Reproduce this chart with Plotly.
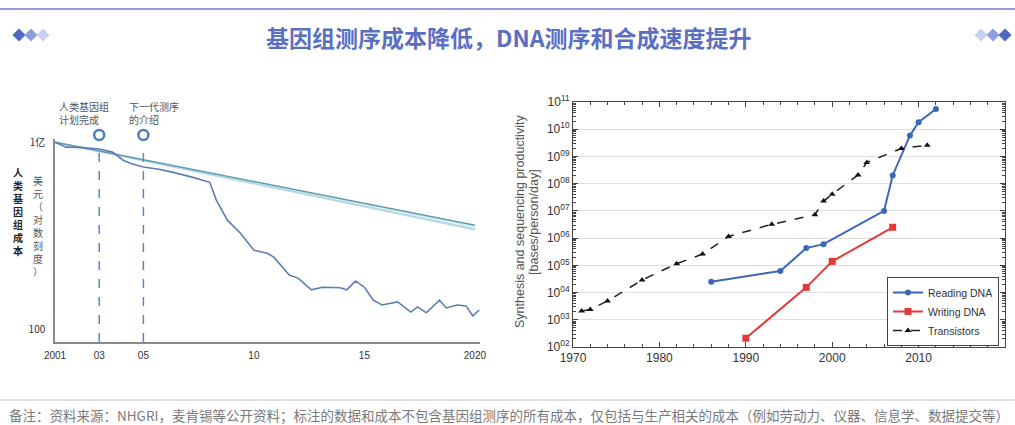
import plotly.graph_objects as go

# ---------------- data ----------------
# Left chart: human genome sequencing cost (USD, log scale)
cost_years = [2001.0, 2001.5, 2002.1, 2003.0, 2003.6, 2004.1, 2004.5, 2005.0, 2005.7, 2006.3,
              2007.2, 2008.0, 2008.3, 2008.8, 2009.4, 2010.0, 2010.6, 2010.9, 2011.6, 2012.0,
              2012.6, 2013.1, 2013.9, 2014.2, 2014.6, 2015.0, 2015.4, 2015.8, 2016.5, 2017.1,
              2017.4, 2017.8, 2018.4, 2018.7, 2019.2, 2019.6, 2019.9, 2020.2]
cost_values = [1.0e8, 6.9e7, 6.8e7, 6.0e7, 4.8e7, 2.6e7, 2.0e7, 1.6e7, 1.35e7, 1.1e7,
               7.6e6, 5.2e6, 1.4e6, 3.2e5, 1.2e5, 3.5e4, 2.8e4, 2.1e4, 5.6e3, 4.5e3,
               1.9e3, 2.3e3, 2.2e3, 1.9e3, 3.6e3, 2.3e3, 890, 620, 780, 370,
               540, 350, 890, 500, 620, 580, 280, 430]
moore_years = [2001, 2020]
moore_upper = [1.0e8, 2.2e5]
moore_lower = [1.0e8, 1.6e5]
milestone_years = [2003, 2005]
milestone_labels = ["人类基因组<br>计划完成", "下一代测序<br>的介绍"]
left_tick_years = [2001, 2003, 2005, 2010, 2015, 2020]
left_tick_text = ["2001", "03", "05", "10", "15", "2020"]
left_y_ticks = [1e8, 100]
left_y_text = ["1亿", "100"]

# Right chart: synthesis and sequencing productivity (bases/person/day)
reading_years = [1986, 1994, 1997, 1999, 2006, 2007, 2009, 2010, 2012]
reading_values = [2.5e4, 6.2e4, 4.3e5, 6.0e5, 1.0e7, 2.0e8, 5.9e9, 1.8e10, 5.5e10]
writing_years = [1990, 1997, 2000, 2007]
writing_values = [2.1e2, 1.55e4, 1.4e5, 2.5e6]
transistor_years = [1971, 1972, 1974, 1978, 1982, 1985, 1988, 1993, 1998, 1999, 2000, 2003, 2004, 2008, 2011]
transistor_values = [2.1e3, 2.4e3, 4.9e3, 2.9e4, 1.15e5, 2.6e5, 1.15e6, 3.2e6, 7.2e6, 2.3e7,
                     4.1e7, 2.1e8, 6.0e8, 1.95e9, 2.6e9]
right_x_ticks = [1970, 1980, 1990, 2000, 2010, 2020]
right_y_exponents = [2, 3, 4, 5, 6, 7, 8, 9, 10, 11]

title_text = "基因组测序成本降低，DNA测序和合成速度提升"
footnote_text = ("备注：资料来源：NHGRI，麦肯锡等公开资料；标注的数据和成本不包含基因组测序的所有成本，"
                 "仅包括与生产相关的成本（例如劳动力、仪器、信息学、数据提交等）")

# ---------------- figure ----------------
W, H = 1015, 425
CJK = "Noto Sans CJK SC"
LAT = "Liberation Sans, Arial, sans-serif"


def px(x):
    return x / W


def py(y):
    return (H - y) / H


fig = go.Figure()

# left chart traces
fig.add_trace(go.Scatter(x=moore_years, y=moore_lower, mode="lines",
                         line=dict(color="#b5d6e6", width=2), xaxis="x", yaxis="y",
                         showlegend=False, hoverinfo="skip"))
fig.add_trace(go.Scatter(x=moore_years, y=moore_upper, mode="lines",
                         line=dict(color="#5c9fa9", width=1.5), fill="tonexty",
                         fillcolor="rgba(181,214,230,0.45)", xaxis="x", yaxis="y",
                         showlegend=False, hoverinfo="skip"))
fig.add_trace(go.Scatter(x=cost_years, y=cost_values, mode="lines",
                         line=dict(color="#5f7db3", width=1.6), xaxis="x", yaxis="y",
                         showlegend=False))

# right chart traces
fig.add_trace(go.Scatter(x=reading_years, y=reading_values, mode="lines+markers", name="Reading DNA",
                         line=dict(color="#3b67b8", width=2),
                         marker=dict(symbol="circle", size=6, color="#3b67b8"),
                         xaxis="x2", yaxis="y2"))
fig.add_trace(go.Scatter(x=writing_years, y=writing_values, mode="lines+markers", name="Writing DNA",
                         line=dict(color="#e2393b", width=2),
                         marker=dict(symbol="square", size=7, color="#e2393b"),
                         xaxis="x2", yaxis="y2"))
fig.add_trace(go.Scatter(x=transistor_years, y=transistor_values, mode="lines+markers", name="Transistors",
                         line=dict(color="#222222", width=1.5, dash="dash"),
                         marker=dict(symbol="triangle-up", size=6, color="#111111"),
                         xaxis="x2", yaxis="y2"))

minor_vals = [m * 10 ** k for k in range(2, 11) for m in range(2, 10)]

fig.update_layout(
    width=W, height=H, autosize=False,
    margin=dict(l=0, r=0, t=0, b=0, pad=0, autoexpand=False),
    paper_bgcolor="white", plot_bgcolor="white",
    xaxis=dict(domain=[px(55), px(480)], range=[2001, 2020.23], anchor="y", automargin=False,
               tickvals=left_tick_years, ticktext=left_tick_text,
               showline=True, linecolor="#8a8a8a", linewidth=1.5, showgrid=False, zeroline=False,
               ticks="", ticklabelstandoff=3, tickfont=dict(family=LAT, size=10, color="#333")),
    yaxis=dict(domain=[py(342), py(139)], type="log", range=[1.61, 8.1], anchor="x", automargin=False,
               tickvals=left_y_ticks, ticktext=left_y_text,
               showline=True, linecolor="#8a8a8a", linewidth=1.5, showgrid=False, zeroline=False,
               ticks="", ticklabelstandoff=6, tickfont=dict(family=CJK, size=10, color="#333")),
    xaxis2=dict(domain=[px(573), px(1005)], range=[1970, 2020], anchor="y2", automargin=False,
                tick0=1970, dtick=10, ticks="inside", ticklen=5, tickcolor="#444",
                mirror="allticks", showline=True, linecolor="#444", linewidth=1,
                showgrid=False, zeroline=False,
                minor=dict(ticks="inside", ticklen=3, dtick=2, tick0=1970, tickcolor="#444", showgrid=False),
                tickfont=dict(family=LAT, size=12, color="#333")),
    yaxis2=dict(domain=[py(347), py(102)], type="log", range=[2, 11], anchor="x2", automargin=False,
                tickvals=[10 ** k for k in right_y_exponents],
                ticktext=["10<sup>%02d</sup>" % k for k in right_y_exponents],
                ticks="inside", ticklen=5, tickcolor="#444",
                mirror="allticks", showline=True, linecolor="#444", linewidth=1,
                showgrid=True, gridcolor="#dedede", gridwidth=1, zeroline=False,
                minor=dict(tickvals=minor_vals, ticks="inside", ticklen=3, tickcolor="#444", showgrid=False),
                tickfont=dict(family=LAT, size=12, color="#333")),
    legend=dict(x=px(999), xanchor="right", y=py(346), yanchor="bottom",
                bgcolor="white", bordercolor="#444", borderwidth=1, traceorder="normal",
                font=dict(family=LAT, size=10.5, color="#333"),
                tracegroupgap=0, itemwidth=30),
    showlegend=True,
)

shapes = []
# top rule and bottom rule
shapes.append(dict(type="line", xref="paper", yref="paper", x0=0, x1=1, y0=py(9), y1=py(9),
                   line=dict(color="#8c9dd8", width=2)))
shapes.append(dict(type="line", xref="paper", yref="paper", x0=0, x1=1, y0=py(400), y1=py(400),
                   line=dict(color="#d2d2d2", width=1.5)))
# milestone dashed lines and open circles
r_yr = 5.0 / 22.1
for yr in milestone_years:
    shapes.append(dict(type="line", xref="x", yref="paper", x0=yr, x1=yr, y0=py(342), y1=py(144),
                       line=dict(color="#5b86c5", width=1.5, dash="dash")))
    shapes.append(dict(type="circle", xref="x", yref="paper", x0=yr - r_yr, x1=yr + r_yr,
                       y0=py(140), y1=py(130), line=dict(color="#4f7db8", width=2.5),
                       fillcolor="rgba(0,0,0,0)"))


# decorative diamonds
def diamond(cx, cy, r, color):
    path = "M {a},{b} L {c},{d} L {e},{f} L {g},{h} Z".format(
        a=px(cx - r), b=py(cy), c=px(cx), d=py(cy - r), e=px(cx + r), f=py(cy), g=px(cx), h=py(cy + r))
    return dict(type="path", xref="paper", yref="paper", path=path, fillcolor=color,
                line=dict(width=0), layer="above")


dark, mid, light = "#4e69c2", "#8c9edb", "#c8d1ef"
for cx, col in [(19, dark), (31, mid), (43, light)]:
    shapes.append(diamond(cx, 35, 6.5, col))
for cx, col in [(981, light), (993, mid), (1005, dark)]:
    shapes.append(diamond(cx, 35, 6.5, col))
fig.update_layout(shapes=shapes)

ann = []
ann.append(dict(text="<b>" + title_text + "</b>", x=px(508), y=py(37), xref="paper", yref="paper",
                showarrow=False, xanchor="center", yanchor="middle",
                font=dict(family=CJK, size=23, color="#5b6fc2")))
ann.append(dict(text=footnote_text, x=px(7), y=py(415), xref="paper", yref="paper",
                showarrow=False, xanchor="left", yanchor="middle",
                font=dict(family=CJK, size=13.5, color="#7a7a7a")))
# milestone labels
for lx, lab in zip([57, 127], milestone_labels):
    ann.append(dict(text=lab, x=px(lx), y=py(113), xref="paper", yref="paper", showarrow=False,
                    xanchor="left", yanchor="middle", align="left",
                    font=dict(family=CJK, size=10, color="#555")))
# Moore's law label
ann.append(dict(text="摩尔定律", x=2011.7, y=10 ** 7.05, xref="x", yref="y", showarrow=False,
                textangle=10, font=dict(family=CJK, size=9.5, color="#444")))
# left vertical titles
ann.append(dict(text="<b>" + "<br>".join("人类基因组成本") + "</b>", x=px(18), y=py(211),
                xref="paper", yref="paper", showarrow=False, xanchor="center", yanchor="middle",
                font=dict(family=CJK, size=10, color="#222")))
ann.append(dict(text="<br>".join(["美", "元", "（", "对", "数", "刻", "度", "）"]), x=px(38), y=py(226),
                xref="paper", yref="paper", showarrow=False, xanchor="center", yanchor="middle",
                font=dict(family=CJK, size=10, color="#555")))
# right y-axis title
ann.append(dict(text="Synthesis and sequencing productivity", x=px(520), y=py(222),
                xref="paper", yref="paper", showarrow=False, textangle=-90,
                xanchor="center", yanchor="middle", font=dict(family=LAT, size=12.5, color="#555")))
ann.append(dict(text="[bases/person/day]", x=px(534), y=py(222),
                xref="paper", yref="paper", showarrow=False, textangle=-90,
                xanchor="center", yanchor="middle", font=dict(family=LAT, size=12.5, color="#555")))
fig.update_layout(annotations=ann)

fig.write_html("out.html", config={"displayModeBar": False},
               post_script="document.body.style.margin='0';document.body.style.overflow='hidden';")
